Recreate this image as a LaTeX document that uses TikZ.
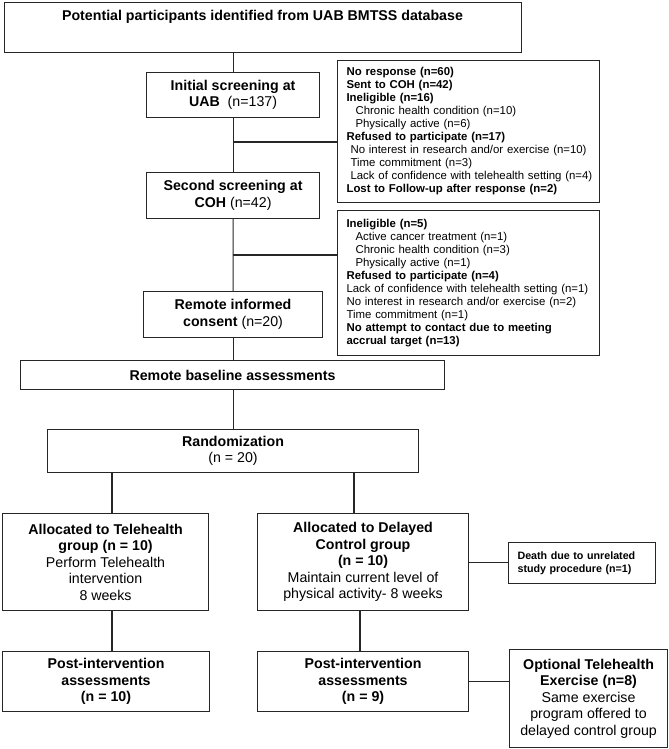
\documentclass[tikz,border=0pt]{standalone}
\usepackage{fontspec}
\setmainfont{Liberation Sans}
\newcommand\fmain{\fontsize{14.2bp}{16.5bp}\selectfont}
\newcommand\fsmall{\fontsize{11.4bp}{13bp}\selectfont}
\newcommand\ftiny{\fontsize{10.7bp}{13bp}\selectfont}
\begin{document}
\begin{tikzpicture}[x=1bp,y=-1bp,
  box/.style={draw=black!85, line width=1.1bp, inner sep=0pt, align=center, font=\fmain, anchor=north west},
  infobox/.style={box, align=left, font=\fsmall, inner xsep=9bp},
  conn/.style={draw=black!85, line width=1.1bp}]
\useasboundingbox (0,0) rectangle (669,749);

\node[box, minimum width=517bp, minimum height=50bp] (pool) at (4,2) {};
\node[font=\bfseries\fmain, inner sep=0pt] (pooltxt) at (262.5,17) {Potential participants identified from UAB BMTSS database};

\node[box, minimum width=173bp, minimum height=45bp] (init) at (146,72) {\textbf{Initial screening at}\\\textbf{UAB}~ (n=137)};

\node[infobox, text width=244bp, minimum height=142bp] (ex1) at (337,60) {%
\textbf{No response (n=60)}\\
\textbf{Sent to COH (n=42)}\\
\textbf{Ineligible (n=16)}\\
\hspace*{9bp}Chronic health condition (n=10)\\
\hspace*{9bp}Physically active (n=6)\\
\textbf{Refused to participate (n=17)}\\
\hspace*{4bp}No interest in research and/or exercise (n=10)\\
\hspace*{4bp}Time commitment (n=3)\\
\hspace*{4bp}\mbox{Lack of confidence with telehealth setting (n=4)}\\
\textbf{Lost to Follow-up after response (n=2)}};

\node[box, minimum width=173bp, minimum height=46bp] (second) at (146,172) {\textbf{Second screening at}\\\textbf{COH} (n=42)};

\node[infobox, text width=244bp, minimum height=145bp] (ex2) at (337,210) {%
\textbf{Ineligible (n=5)}\\
\hspace*{9bp}Active cancer treatment (n=1)\\
\hspace*{9bp}Chronic health condition (n=3)\\
\hspace*{9bp}Physically active (n=1)\\
\textbf{Refused to participate (n=4)}\\
\mbox{Lack of confidence with telehealth setting (n=1)}\\
No interest in research and/or exercise (n=2)\\
Time commitment (n=1)\\
\textbf{No attempt to contact due to meeting}\\
\textbf{accrual target (n=13)}};

\node[box, minimum width=179bp, minimum height=46bp] (consent) at (143,291) {\textbf{Remote informed}\\\textbf{consent} (n=20)};

\node[box, minimum width=424bp, minimum height=29bp, font=\bfseries\fmain] (base) at (20,360) {Remote baseline assessments};

\node[box, minimum width=371bp, minimum height=43bp] (rand) at (47,429) {\textbf{Randomization}\\(n = 20)};

\node[box, minimum width=206bp, minimum height=97bp] (tele) at (2,513) {\textbf{Allocated to Telehealth}\\\textbf{group (n = 10)}\\Perform Telehealth\\intervention\\8 weeks};

\node[box, minimum width=211bp, minimum height=97bp] (delay) at (257,513) {\textbf{Allocated to Delayed}\\\textbf{Control group}\\\textbf{(n = 10)}\\Maintain current level of\\physical activity- 8 weeks};

\node[infobox, font=\bfseries\ftiny, text width=129bp, minimum height=41bp] (death) at (508,542) {Death due to unrelated\\study procedure (n=1)};

\node[box, font=\bfseries\fmain, minimum width=207bp, minimum height=60bp] (post1) at (2,651) {Post-intervention\\assessments\\(n = 10)};

\node[box, font=\bfseries\fmain, minimum width=211bp, minimum height=60bp] (post2) at (257,651) {Post-intervention\\assessments\\(n = 9)};

\node[box, minimum width=158bp, minimum height=98bp] (opt) at (509,649) {\textbf{Optional Telehealth}\\\textbf{Exercise (n=8)}\\Same exercise\\program offered to\\delayed control group};

\coordinate (b1) at (232.5,142);
\coordinate (b2) at (232.5,255);
\coordinate (xl) at (112,0);
\coordinate (xr) at (354,0);
\coordinate (xr2) at (360,0);

\draw[conn] (pool.south -| init.north) -- (init.north);
\draw[conn] (init.south) -- (second.north);
\draw[conn] (b1) -- (b1 -| ex1.west);
\draw[conn] (second.south) -- (consent.north);
\draw[conn] (b2) -- (b2 -| ex2.west);
\draw[conn] (consent.south) -- (consent.south |- base.north);
\draw[conn] (consent.south |- base.south) -- (consent.south |- rand.north);
\draw[conn] (xl |- rand.south) -- (xl |- tele.north);
\draw[conn] (xr |- rand.south) -- (xr |- delay.north);
\draw[conn] (delay.east) -- (delay.east -| death.west);
\draw[conn] (xl |- tele.south) -- (xl |- post1.north);
\draw[conn] (xr2 |- delay.south) -- (xr2 |- post2.north);
\draw[conn] (post2.east) -- (post2.east -| opt.west);
\end{tikzpicture}
\end{document}
